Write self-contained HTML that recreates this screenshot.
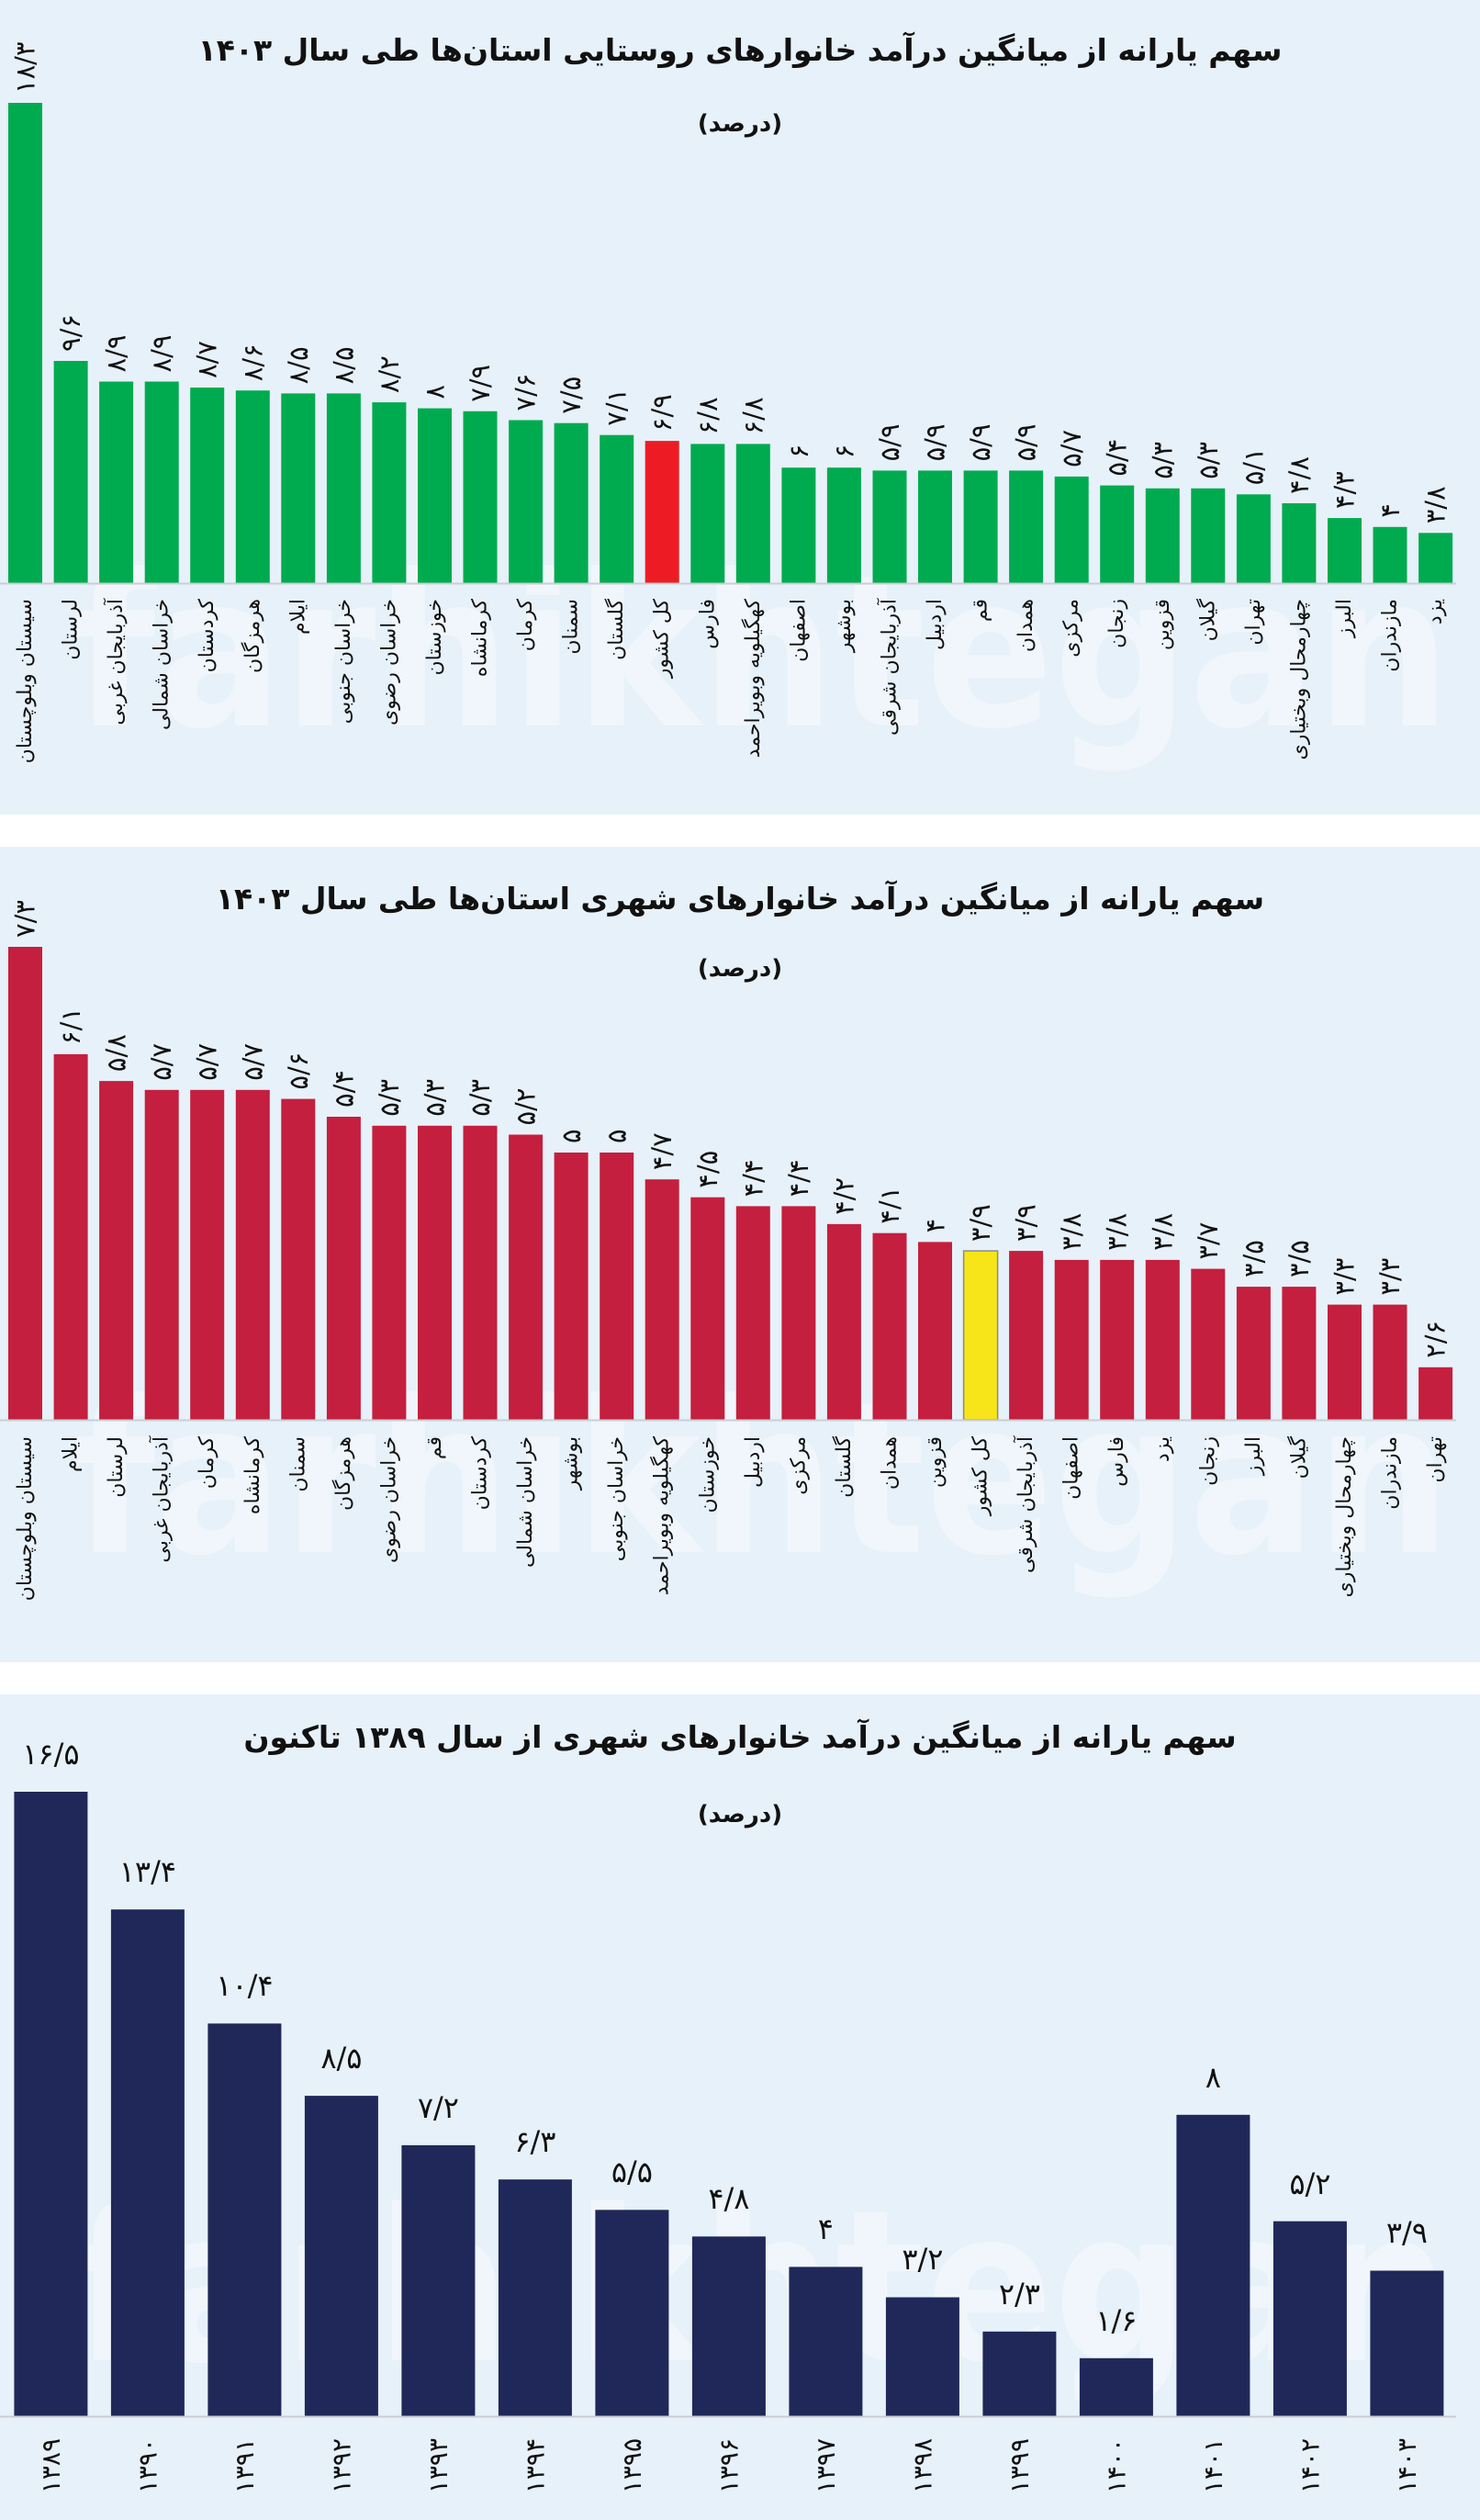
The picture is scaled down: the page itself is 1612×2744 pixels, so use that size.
<!DOCTYPE html>
<html><head><meta charset="utf-8"><style>
html,body{margin:0;padding:0;background:#fff;}
svg{display:block;}
text{font-family:"DejaVu Sans","Liberation Sans",sans-serif;}
.t{font-size:33px;font-weight:bold;fill:#111;}
.s{font-size:26px;font-weight:bold;fill:#111;}
.v{font-size:29px;fill:#111;}
.c{font-size:22px;fill:#111;}
.y{font-size:28px;fill:#111;}
.w{font-size:230px;font-weight:bold;fill:#f0f6fb;}
.g rect{fill:#00ab4f}
.r rect{fill:#c41f3e}
.n rect{fill:#1f2859}
</style></head><body>
<svg width="1612" height="2744" viewBox="0 0 1612 2744" xmlns="http://www.w3.org/2000/svg">
<rect x="0" y="0" width="1612" height="2744" fill="#ffffff"/>
<rect x="0" y="0" width="1612" height="887" fill="#e7f1f9"/>
<rect x="0" y="922" width="1612" height="888" fill="#e7f1f9"/>
<rect x="0" y="1845" width="1612" height="899" fill="#e7f1f9"/>

<text class="w" x="80" y="790" textLength="1500" lengthAdjust="spacingAndGlyphs">farhikhtegan</text>
<text class="w" x="80" y="1690" textLength="1500" lengthAdjust="spacingAndGlyphs">farhikhtegan</text>
<text class="w" x="80" y="2570" textLength="1500" lengthAdjust="spacingAndGlyphs">farhikhtegan</text>

<!-- PANEL 1 -->
<text class="t" x="806" y="66" text-anchor="middle">سهم یارانه از میانگین درآمد خانوارهای روستایی استان‌ها طی سال ۱۴۰۳</text>
<text class="s" x="806" y="143" text-anchor="middle">(درصد)</text>
<g class="g">
<rect x="9" y="112" width="37" height="523"/>
<rect x="58.6" y="393" width="37" height="242"/>
<rect x="108.1" y="415.5" width="37" height="219.5"/>
<rect x="157.7" y="415.5" width="37" height="219.5"/>
<rect x="207.2" y="422" width="37" height="213"/>
<rect x="256.8" y="425.2" width="37" height="209.8"/>
<rect x="306.3" y="428.4" width="37" height="206.6"/>
<rect x="355.9" y="428.4" width="37" height="206.6"/>
<rect x="405.4" y="438.1" width="37" height="196.9"/>
<rect x="455" y="444.6" width="37" height="190.4"/>
<rect x="504.5" y="447.8" width="37" height="187.2"/>
<rect x="554.1" y="457.5" width="37" height="177.5"/>
<rect x="603.6" y="460.7" width="37" height="174.3"/>
<rect x="653.2" y="473.7" width="37" height="161.3"/>
<rect x="702.7" y="480.1" width="37" height="154.9" style="fill:#ed1c24"/>
<rect x="752.3" y="483.4" width="37" height="151.6"/>
<rect x="801.8" y="483.4" width="37" height="151.6"/>
<rect x="851.4" y="509.2" width="37" height="125.8"/>
<rect x="900.9" y="509.2" width="37" height="125.8"/>
<rect x="950.5" y="512.4" width="37" height="122.6"/>
<rect x="1000" y="512.4" width="37" height="122.6"/>
<rect x="1049.6" y="512.4" width="37" height="122.6"/>
<rect x="1099.1" y="512.4" width="37" height="122.6"/>
<rect x="1148.7" y="518.9" width="37" height="116.1"/>
<rect x="1198.2" y="528.6" width="37" height="106.4"/>
<rect x="1247.8" y="531.8" width="37" height="103.2"/>
<rect x="1297.3" y="531.8" width="37" height="103.2"/>
<rect x="1346.9" y="538.3" width="37" height="96.7"/>
<rect x="1396.4" y="548" width="37" height="87"/>
<rect x="1446" y="564.1" width="37" height="70.9"/>
<rect x="1495.5" y="573.8" width="37" height="61.2"/>
<rect x="1545.1" y="580.3" width="37" height="54.7"/>
</g>
<line x1="0" y1="635.5" x2="1586" y2="635.5" stroke="#c9ced3" stroke-width="2"/>
<g class="v" text-anchor="start" dominant-baseline="central">
<text transform="translate(27.5,102) rotate(-90)">۱۸/۳</text>
<text transform="translate(77.1,383) rotate(-90)">۹/۶</text>
<text transform="translate(126.6,405.5) rotate(-90)">۸/۹</text>
<text transform="translate(176.2,405.5) rotate(-90)">۸/۹</text>
<text transform="translate(225.7,412) rotate(-90)">۸/۷</text>
<text transform="translate(275.3,415.2) rotate(-90)">۸/۶</text>
<text transform="translate(324.8,418.4) rotate(-90)">۸/۵</text>
<text transform="translate(374.4,418.4) rotate(-90)">۸/۵</text>
<text transform="translate(423.9,428.1) rotate(-90)">۸/۲</text>
<text transform="translate(473.5,434.6) rotate(-90)">۸</text>
<text transform="translate(523,437.8) rotate(-90)">۷/۹</text>
<text transform="translate(572.6,447.5) rotate(-90)">۷/۶</text>
<text transform="translate(622.1,450.7) rotate(-90)">۷/۵</text>
<text transform="translate(671.7,463.7) rotate(-90)">۷/۱</text>
<text transform="translate(721.2,470.1) rotate(-90)">۶/۹</text>
<text transform="translate(770.8,473.4) rotate(-90)">۶/۸</text>
<text transform="translate(820.3,473.4) rotate(-90)">۶/۸</text>
<text transform="translate(869.9,499.2) rotate(-90)">۶</text>
<text transform="translate(919.4,499.2) rotate(-90)">۶</text>
<text transform="translate(969,502.4) rotate(-90)">۵/۹</text>
<text transform="translate(1018.5,502.4) rotate(-90)">۵/۹</text>
<text transform="translate(1068.1,502.4) rotate(-90)">۵/۹</text>
<text transform="translate(1117.6,502.4) rotate(-90)">۵/۹</text>
<text transform="translate(1167.2,508.9) rotate(-90)">۵/۷</text>
<text transform="translate(1216.7,518.6) rotate(-90)">۵/۴</text>
<text transform="translate(1266.3,521.8) rotate(-90)">۵/۳</text>
<text transform="translate(1315.8,521.8) rotate(-90)">۵/۳</text>
<text transform="translate(1365.4,528.3) rotate(-90)">۵/۱</text>
<text transform="translate(1414.9,538) rotate(-90)">۴/۸</text>
<text transform="translate(1464.5,554.1) rotate(-90)">۴/۳</text>
<text transform="translate(1514,563.8) rotate(-90)">۴</text>
<text transform="translate(1563.6,570.3) rotate(-90)">۳/۸</text>
</g>
<g class="c" text-anchor="end" dominant-baseline="central">
<text transform="translate(27.5,652) rotate(-90)">سیستان وبلوچستان</text>
<text transform="translate(77.1,652) rotate(-90)">لرستان</text>
<text transform="translate(126.6,652) rotate(-90)">آذربایجان غربی</text>
<text transform="translate(176.2,652) rotate(-90)">خراسان شمالی</text>
<text transform="translate(225.7,652) rotate(-90)">کردستان</text>
<text transform="translate(275.3,652) rotate(-90)">هرمزگان</text>
<text transform="translate(324.8,652) rotate(-90)">ایلام</text>
<text transform="translate(374.4,652) rotate(-90)">خراسان جنوبی</text>
<text transform="translate(423.9,652) rotate(-90)">خراسان رضوی</text>
<text transform="translate(473.5,652) rotate(-90)">خوزستان</text>
<text transform="translate(523,652) rotate(-90)">کرمانشاه</text>
<text transform="translate(572.6,652) rotate(-90)">کرمان</text>
<text transform="translate(622.1,652) rotate(-90)">سمنان</text>
<text transform="translate(671.7,652) rotate(-90)">گلستان</text>
<text transform="translate(721.2,652) rotate(-90)">کل کشور</text>
<text transform="translate(770.8,652) rotate(-90)">فارس</text>
<text transform="translate(820.3,652) rotate(-90)">کهگیلویه وبویراحمد</text>
<text transform="translate(869.9,652) rotate(-90)">اصفهان</text>
<text transform="translate(919.4,652) rotate(-90)">بوشهر</text>
<text transform="translate(969,652) rotate(-90)">آذربایجان شرقی</text>
<text transform="translate(1018.5,652) rotate(-90)">اردبیل</text>
<text transform="translate(1068.1,652) rotate(-90)">قم</text>
<text transform="translate(1117.6,652) rotate(-90)">همدان</text>
<text transform="translate(1167.2,652) rotate(-90)">مرکزی</text>
<text transform="translate(1216.7,652) rotate(-90)">زنجان</text>
<text transform="translate(1266.3,652) rotate(-90)">قزوین</text>
<text transform="translate(1315.8,652) rotate(-90)">گیلان</text>
<text transform="translate(1365.4,652) rotate(-90)">تهران</text>
<text transform="translate(1414.9,652) rotate(-90)">چهارمحال وبختیاری</text>
<text transform="translate(1464.5,652) rotate(-90)">البرز</text>
<text transform="translate(1514,652) rotate(-90)">مازندران</text>
<text transform="translate(1563.6,652) rotate(-90)">یزد</text>
</g>

<!-- PANEL 2 -->
<text class="t" x="806" y="990" text-anchor="middle">سهم یارانه از میانگین درآمد خانوارهای  شهری  استان‌ها طی سال ۱۴۰۳</text>
<text class="s" x="806" y="1063" text-anchor="middle">(درصد)</text>
<g class="r">
<rect x="9" y="1031" width="37" height="515"/>
<rect x="58.6" y="1147.9" width="37" height="398.1"/>
<rect x="108.1" y="1177.1" width="37" height="368.9"/>
<rect x="157.7" y="1186.8" width="37" height="359.2"/>
<rect x="207.2" y="1186.8" width="37" height="359.2"/>
<rect x="256.8" y="1186.8" width="37" height="359.2"/>
<rect x="306.3" y="1196.6" width="37" height="349.4"/>
<rect x="355.9" y="1216" width="37" height="330"/>
<rect x="405.4" y="1225.8" width="37" height="320.2"/>
<rect x="455" y="1225.8" width="37" height="320.2"/>
<rect x="504.5" y="1225.8" width="37" height="320.2"/>
<rect x="554.1" y="1235.5" width="37" height="310.5"/>
<rect x="603.6" y="1255" width="37" height="291"/>
<rect x="653.2" y="1255" width="37" height="291"/>
<rect x="702.7" y="1284.2" width="37" height="261.8"/>
<rect x="752.3" y="1303.7" width="37" height="242.3"/>
<rect x="801.8" y="1313.4" width="37" height="232.6"/>
<rect x="851.4" y="1313.4" width="37" height="232.6"/>
<rect x="900.9" y="1332.9" width="37" height="213.1"/>
<rect x="950.5" y="1342.7" width="37" height="203.3"/>
<rect x="1000" y="1352.4" width="37" height="193.6"/>
<rect x="1049.6" y="1362.1" width="37" height="183.9" style="fill:#f7e51a;stroke:#8a8a8a;stroke-width:1.5"/>
<rect x="1099.1" y="1362.1" width="37" height="183.9"/>
<rect x="1148.7" y="1371.9" width="37" height="174.1"/>
<rect x="1198.2" y="1371.9" width="37" height="174.1"/>
<rect x="1247.8" y="1371.9" width="37" height="174.1"/>
<rect x="1297.3" y="1381.6" width="37" height="164.4"/>
<rect x="1346.9" y="1401.1" width="37" height="144.9"/>
<rect x="1396.4" y="1401.1" width="37" height="144.9"/>
<rect x="1446" y="1420.6" width="37" height="125.4"/>
<rect x="1495.5" y="1420.6" width="37" height="125.4"/>
<rect x="1545.1" y="1488.8" width="37" height="57.2"/>
</g>
<line x1="0" y1="1546.5" x2="1586" y2="1546.5" stroke="#c9ced3" stroke-width="2"/>
<g class="v" text-anchor="start" dominant-baseline="central">
<text transform="translate(27.5,1021) rotate(-90)">۷/۳</text>
<text transform="translate(77.1,1137.9) rotate(-90)">۶/۱</text>
<text transform="translate(126.6,1167.1) rotate(-90)">۵/۸</text>
<text transform="translate(176.2,1176.8) rotate(-90)">۵/۷</text>
<text transform="translate(225.7,1176.8) rotate(-90)">۵/۷</text>
<text transform="translate(275.3,1176.8) rotate(-90)">۵/۷</text>
<text transform="translate(324.8,1186.6) rotate(-90)">۵/۶</text>
<text transform="translate(374.4,1206) rotate(-90)">۵/۴</text>
<text transform="translate(423.9,1215.8) rotate(-90)">۵/۳</text>
<text transform="translate(473.5,1215.8) rotate(-90)">۵/۳</text>
<text transform="translate(523,1215.8) rotate(-90)">۵/۳</text>
<text transform="translate(572.6,1225.5) rotate(-90)">۵/۲</text>
<text transform="translate(622.1,1245) rotate(-90)">۵</text>
<text transform="translate(671.7,1245) rotate(-90)">۵</text>
<text transform="translate(721.2,1274.2) rotate(-90)">۴/۷</text>
<text transform="translate(770.8,1293.7) rotate(-90)">۴/۵</text>
<text transform="translate(820.3,1303.4) rotate(-90)">۴/۴</text>
<text transform="translate(869.9,1303.4) rotate(-90)">۴/۴</text>
<text transform="translate(919.4,1322.9) rotate(-90)">۴/۲</text>
<text transform="translate(969,1332.7) rotate(-90)">۴/۱</text>
<text transform="translate(1018.5,1342.4) rotate(-90)">۴</text>
<text transform="translate(1068.1,1352.1) rotate(-90)">۳/۹</text>
<text transform="translate(1117.6,1352.1) rotate(-90)">۳/۹</text>
<text transform="translate(1167.2,1361.9) rotate(-90)">۳/۸</text>
<text transform="translate(1216.7,1361.9) rotate(-90)">۳/۸</text>
<text transform="translate(1266.3,1361.9) rotate(-90)">۳/۸</text>
<text transform="translate(1315.8,1371.6) rotate(-90)">۳/۷</text>
<text transform="translate(1365.4,1391.1) rotate(-90)">۳/۵</text>
<text transform="translate(1414.9,1391.1) rotate(-90)">۳/۵</text>
<text transform="translate(1464.5,1410.6) rotate(-90)">۳/۳</text>
<text transform="translate(1514,1410.6) rotate(-90)">۳/۳</text>
<text transform="translate(1563.6,1478.8) rotate(-90)">۲/۶</text>
</g>
<g class="c" text-anchor="end" dominant-baseline="central">
<text transform="translate(27.5,1564) rotate(-90)">سیستان وبلوچستان</text>
<text transform="translate(77.1,1564) rotate(-90)">ایلام</text>
<text transform="translate(126.6,1564) rotate(-90)">لرستان</text>
<text transform="translate(176.2,1564) rotate(-90)">آذربایجان غربی</text>
<text transform="translate(225.7,1564) rotate(-90)">کرمان</text>
<text transform="translate(275.3,1564) rotate(-90)">کرمانشاه</text>
<text transform="translate(324.8,1564) rotate(-90)">سمنان</text>
<text transform="translate(374.4,1564) rotate(-90)">هرمزگان</text>
<text transform="translate(423.9,1564) rotate(-90)">خراسان رضوی</text>
<text transform="translate(473.5,1564) rotate(-90)">قم</text>
<text transform="translate(523,1564) rotate(-90)">کردستان</text>
<text transform="translate(572.6,1564) rotate(-90)">خراسان شمالی</text>
<text transform="translate(622.1,1564) rotate(-90)">بوشهر</text>
<text transform="translate(671.7,1564) rotate(-90)">خراسان جنوبی</text>
<text transform="translate(721.2,1564) rotate(-90)">کهگیلویه وبویراحمد</text>
<text transform="translate(770.8,1564) rotate(-90)">خوزستان</text>
<text transform="translate(820.3,1564) rotate(-90)">اردبیل</text>
<text transform="translate(869.9,1564) rotate(-90)">مرکزی</text>
<text transform="translate(919.4,1564) rotate(-90)">گلستان</text>
<text transform="translate(969,1564) rotate(-90)">همدان</text>
<text transform="translate(1018.5,1564) rotate(-90)">قزوین</text>
<text transform="translate(1068.1,1564) rotate(-90)">کل کشور</text>
<text transform="translate(1117.6,1564) rotate(-90)">آذربایجان شرقی</text>
<text transform="translate(1167.2,1564) rotate(-90)">اصفهان</text>
<text transform="translate(1216.7,1564) rotate(-90)">فارس</text>
<text transform="translate(1266.3,1564) rotate(-90)">یزد</text>
<text transform="translate(1315.8,1564) rotate(-90)">زنجان</text>
<text transform="translate(1365.4,1564) rotate(-90)">البرز</text>
<text transform="translate(1414.9,1564) rotate(-90)">گیلان</text>
<text transform="translate(1464.5,1564) rotate(-90)">چهارمحال وبختیاری</text>
<text transform="translate(1514,1564) rotate(-90)">مازندران</text>
<text transform="translate(1563.6,1564) rotate(-90)">تهران</text>
</g>

<!-- PANEL 3 -->
<text class="t" x="806" y="1903" text-anchor="middle">سهم یارانه از میانگین درآمد خانوارهای شهری از سال ۱۳۸۹ تاکنون</text>
<text class="s" x="806" y="1984" text-anchor="middle">(درصد)</text>
<g class="n">
<rect x="15.4" y="1951" width="80" height="680"/>
<rect x="120.9" y="2079.2" width="80" height="551.8"/>
<rect x="226.4" y="2203.4" width="80" height="427.6"/>
<rect x="331.9" y="2282.1" width="80" height="348.9"/>
<rect x="437.4" y="2335.9" width="80" height="295.1"/>
<rect x="542.9" y="2373.2" width="80" height="257.8"/>
<rect x="648.4" y="2406.3" width="80" height="224.7"/>
<rect x="753.9" y="2435.3" width="80" height="195.7"/>
<rect x="859.4" y="2468.4" width="80" height="162.6"/>
<rect x="964.9" y="2501.5" width="80" height="129.5"/>
<rect x="1070.4" y="2538.8" width="80" height="92.2"/>
<rect x="1175.9" y="2567.8" width="80" height="63.2"/>
<rect x="1281.4" y="2302.8" width="80" height="328.2"/>
<rect x="1386.9" y="2418.7" width="80" height="212.3"/>
<rect x="1492.4" y="2472.5" width="80" height="158.5"/>
</g>
<line x1="0" y1="2631.5" x2="1586" y2="2631.5" stroke="#c9ced3" stroke-width="2"/>
<g style="font-size:32px;fill:#111" text-anchor="middle">
<text x="55.4" y="1921">۱۶/۵</text>
<text x="160.9" y="2049">۱۳/۴</text>
<text x="266.4" y="2173">۱۰/۴</text>
<text x="371.9" y="2252">۸/۵</text>
<text x="477.4" y="2306">۷/۲</text>
<text x="582.9" y="2343">۶/۳</text>
<text x="688.4" y="2376">۵/۵</text>
<text x="793.9" y="2405">۴/۸</text>
<text x="899.4" y="2438">۴</text>
<text x="1004.9" y="2471">۳/۲</text>
<text x="1110.4" y="2509">۲/۳</text>
<text x="1215.9" y="2538">۱/۶</text>
<text x="1321.4" y="2273">۸</text>
<text x="1426.9" y="2389">۵/۲</text>
<text x="1532.4" y="2442">۳/۹</text>
</g>
<g class="y" text-anchor="end" dominant-baseline="central">
<text transform="translate(55.4,2655) rotate(-90)">۱۳۸۹</text>
<text transform="translate(160.9,2655) rotate(-90)">۱۳۹۰</text>
<text transform="translate(266.4,2655) rotate(-90)">۱۳۹۱</text>
<text transform="translate(371.9,2655) rotate(-90)">۱۳۹۲</text>
<text transform="translate(477.4,2655) rotate(-90)">۱۳۹۳</text>
<text transform="translate(582.9,2655) rotate(-90)">۱۳۹۴</text>
<text transform="translate(688.4,2655) rotate(-90)">۱۳۹۵</text>
<text transform="translate(793.9,2655) rotate(-90)">۱۳۹۶</text>
<text transform="translate(899.4,2655) rotate(-90)">۱۳۹۷</text>
<text transform="translate(1004.9,2655) rotate(-90)">۱۳۹۸</text>
<text transform="translate(1110.4,2655) rotate(-90)">۱۳۹۹</text>
<text transform="translate(1215.9,2655) rotate(-90)">۱۴۰۰</text>
<text transform="translate(1321.4,2655) rotate(-90)">۱۴۰۱</text>
<text transform="translate(1426.9,2655) rotate(-90)">۱۴۰۲</text>
<text transform="translate(1532.4,2655) rotate(-90)">۱۴۰۳</text>
</g>
</svg>
</body></html>
